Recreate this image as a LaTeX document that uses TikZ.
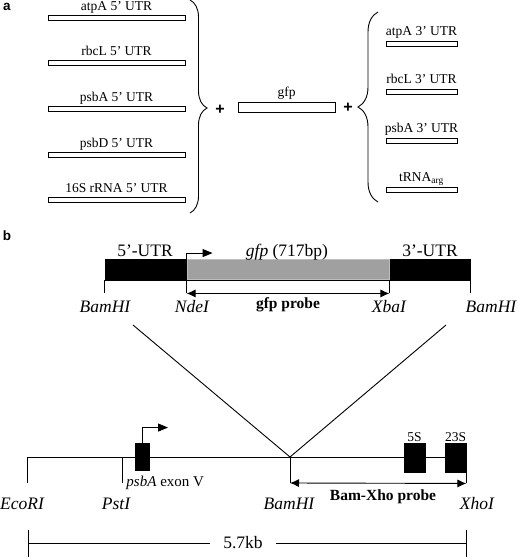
\documentclass[tikz,border=0pt]{standalone}
\usepackage{fontspec}
\setmainfont{Liberation Serif}
\newfontfamily\panelfont{Liberation Sans}
\usetikzlibrary{arrows.meta,positioning,decorations.pathreplacing}
\definecolor{gfpgray}{RGB}{160,160,160}

\begin{document}
\begin{tikzpicture}[x=1pt,y=-1pt,>={Latex[length=9pt,width=8pt]},line width=0.9pt]
  \tikzstyle{utrbar}=[draw,inner sep=0pt,minimum height=5pt]
  \tikzstyle{lbla}=[font=\fontsize{13.5}{15}\selectfont,inner sep=0pt,anchor=base]
  \tikzstyle{lblb}=[font=\fontsize{17.5}{20}\selectfont,inner sep=0pt,anchor=base]
  \tikzstyle{site}=[font=\fontsize{17.5}{20}\selectfont\itshape,inner sep=0pt,anchor=base]
  \tikzstyle{probe}=[font=\fontsize{15.5}{18}\selectfont\bfseries,inner sep=0pt,anchor=base]
  \tikzstyle{panel}=[font=\panelfont\bfseries\fontsize{13.5}{15}\selectfont,inner sep=0pt,anchor=base]
  \tikzstyle{plus}=[font=\panelfont\bfseries\fontsize{16}{18}\selectfont,inner sep=0pt]
  \tikzstyle{exon}=[draw,fill=black,inner sep=0pt]
  \tikzstyle{promoter}=[line width=1pt,-{Triangle[length=10pt,width=8pt]}]
  \useasboundingbox (0,0) rectangle (518,557);

  % a
  \node[panel] (pa) at (7,10) {a};
  \foreach \nm/\yy [count=\i] in {atpA/18,rbcL/63,psbA/109,psbD/155,16S rRNA/200}{
    \node[utrbar,minimum width=137pt] (five\i) at (116.5,\yy) {};
    \node[lbla,above=5pt of five\i.north,anchor=base] {\nm\ 5' UTR};
  }
  \draw[decorate,decoration={brace,amplitude=17pt,aspect=0.507}] (190,0) -- (190,213);
  \node[plus] (plus1) at (220,110) {+};
  \node[utrbar,minimum width=97pt,minimum height=10pt] (gfpbar) at (286.5,107) {};
  \node[lbla,above=5pt of gfpbar.north,anchor=base] {gfp};
  \node[plus] (plus2) at (348,108) {+};
  \draw[decorate,decoration={brace,amplitude=20pt,aspect=0.5}] (378,202) -- (378,12);
  \foreach \nm/\yy [count=\i] in {atpA 3' UTR/44,rbcL 3' UTR/92,psbA 3' UTR/141,tRNA\textsubscript{arg}/190}{
    \node[utrbar,minimum width=71pt] (three\i) at (421.5,\yy) {};
    \node[lbla,above=5.5pt of three\i.north,anchor=base] {\nm};
  }

  % b
  \node[panel] (pb) at (7,240.5) {b};
  \node[exon,minimum width=365pt,minimum height=21pt] (cassette) at (287.5,269.5) {};
  \node[draw=gfpgray!70!white,fill=gfpgray,inner sep=0pt,minimum width=202pt,minimum height=20pt] (gfpbox) at (288,269.5) {};
  \draw[promoter] (gfpbox.north west) -- ++(0,-6) -- ++(26,0);
  \node[lblb] (utr5) at (145,256) {5'-UTR};
  \node[lblb] (gfplbl) at (287,256) {\textit{gfp} (717bp)};
  \node[lblb] (utr3) at (430,256) {3'-UTR};
  \draw (cassette.south west) -- ++(0,13) coordinate (bamA);
  \draw (gfpbox.south west) -- ++(0,13.5) coordinate (ndeA);
  \draw (gfpbox.south east) -- ++(0,13.5) coordinate (xbaA);
  \draw (cassette.south east) -- ++(0,13) coordinate (bamB);
  \draw[<->] (ndeA) -- (xbaA);
  \node[site] (bam1) at (105,312) {BamHI};
  \node[site] (nde) at (192,312) {NdeI};
  \node[probe] (gfpprobe) at (288,308) {gfp probe};
  \node[site] (xba) at (389,312) {XbaI};
  \node[site] (bam2) at (491,312) {BamHI};

  \coordinate (insL) at (133,325);
  \coordinate (insR) at (446,325);
  \coordinate (bamSite) at (290,457);
  \draw (insL) -- (bamSite) -- (insR);

  \coordinate (ecoA) at (27,457);
  \coordinate (pstA) at (122,457);
  \coordinate (lineEnd) at (466,457);
  \draw (ecoA) -- (lineEnd);
  \node[exon,minimum width=14pt,minimum height=27pt] (psbAbox) at (142,456.5) {};
  \node[exon,minimum width=21pt,minimum height=29pt] (box5S) at (414.5,457.5) {};
  \node[exon,minimum width=21pt,minimum height=29pt] (box23S) at (455.5,457.5) {};
  \node[lbla,above=1.5pt of box5S.north,anchor=base] {5S};
  \node[lbla,above=1.5pt of box23S.north,anchor=base] {23S};
  \draw[promoter] (psbAbox.north) -- ++(0,-15) -- ++(26,0);
  \draw (ecoA) -- ++(0,26);
  \draw (pstA) -- ++(0,26);
  \draw (bamSite) -- ++(0,26) coordinate (bamC);
  \draw (box23S.south east) -- ++(0,11) coordinate (xhoC);
  \draw[<->] (bamC) -- (xhoC);
  \node[lblb,font=\fontsize{15}{17}\selectfont,anchor=base west] (exonV) at (126,486) {\textit{psbA} exon V};
  \node[site] (eco) at (22,509) {EcoRI};
  \node[site] (pst) at (116,509) {PstI};
  \node[site] (bam3) at (289,509) {BamHI};
  \node[probe] (bamxho) at (383,500) {Bam-Xho probe};
  \node[site] (xho) at (477,509) {XhoI};

  \coordinate (scaleL) at (28,543);
  \coordinate (scaleR) at (466,543);
  \draw (scaleL) -- (scaleR);
  \draw (scaleL) ++(0,-13) -- ++(0,27);
  \draw (scaleR) ++(0,-13) -- ++(0,27);
  \node[fill=white,inner xsep=13pt,inner ysep=1pt,font=\fontsize{17.5}{20}\selectfont] (kb) at (243,543) {5.7kb};
\end{tikzpicture}
\end{document}
